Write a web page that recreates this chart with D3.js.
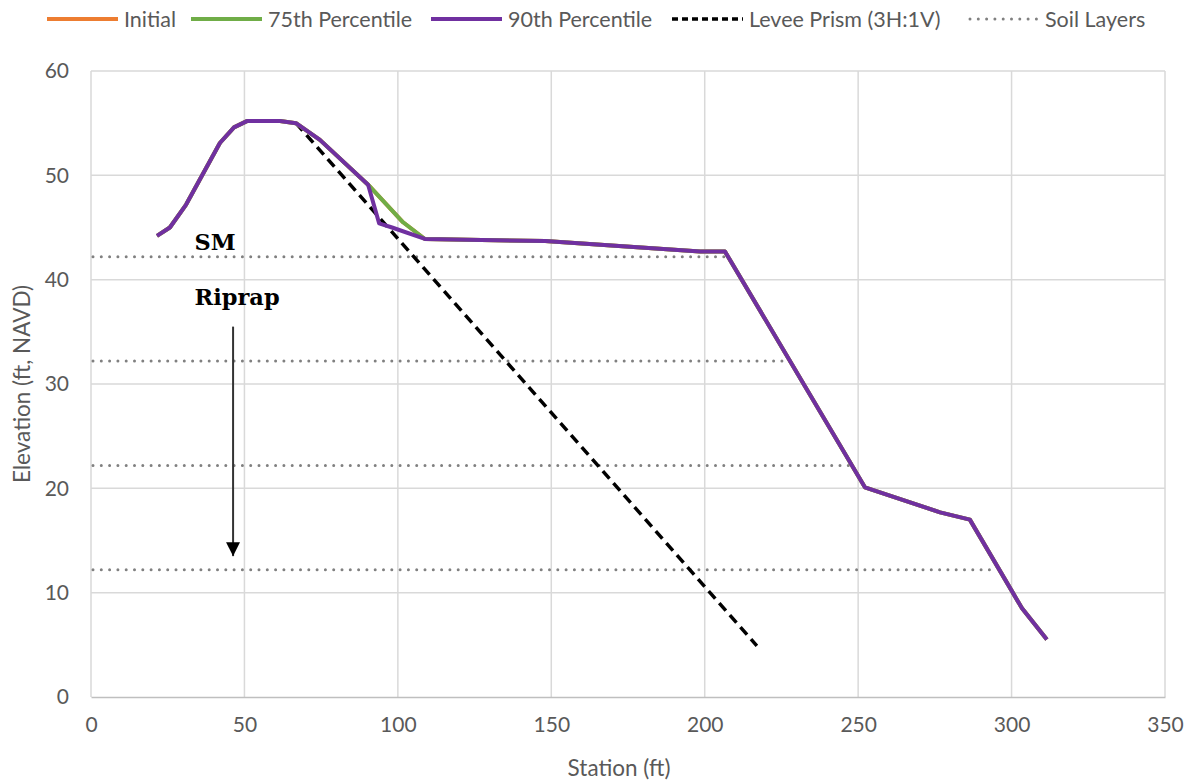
<!DOCTYPE html>
<html>
<head>
<meta charset="utf-8">
<script src="https://cdn.jsdelivr.net/npm/d3@7"></script>
<style>
  body { margin: 0; background: #fff; }
</style>
</head>
<body>
<div id="plot"></div>
<script>
// Chart data (station ft, elevation ft)
var initialStation = [21.5, 25.7, 31.0, 42.0, 46.6, 50.8, 61.6, 66.8, 74.6, 90.3, 101.7, 108.8, 148, 198.5, 206.6, 252.2, 276.7, 286.4, 303.4, 311.5];
var initialElev    = [44.2, 45.0, 47.2, 53.1, 54.6, 55.2, 55.2, 55.0, 53.4, 49.1, 45.5, 43.9, 43.7, 42.7, 42.7, 20.1, 17.7, 17.0, 8.5, 5.5];

var p75Station = [21.5, 25.7, 31.0, 42.0, 46.6, 50.8, 61.6, 66.8, 74.6, 90.3, 101.7, 108.8, 148, 198.5, 206.6, 252.2, 276.7, 286.4, 303.4, 311.5];
var p75Elev    = [44.2, 45.0, 47.2, 53.1, 54.6, 55.2, 55.2, 55.0, 53.4, 49.1, 45.5, 43.9, 43.7, 42.7, 42.7, 20.1, 17.7, 17.0, 8.5, 5.5];

var p90Station = [21.5, 25.7, 31.0, 42.0, 46.6, 50.8, 61.6, 66.8, 74.6, 90.3, 93.9, 98.1, 108.8, 148, 198.5, 206.6, 252.2, 276.7, 286.4, 303.4, 311.5];
var p90Elev    = [44.2, 45.0, 47.2, 53.1, 54.6, 55.2, 55.2, 55.0, 53.4, 49.1, 45.4, 45.0, 43.9, 43.7, 42.7, 42.7, 20.1, 17.7, 17.0, 8.5, 5.5];

var leveeStation = [66.8, 217.0];
var leveeElev    = [55.0, 4.9];

var soilElev       = [42.2, 32.2, 22.2, 12.2];
var soilEndStation = [207, 227.5, 248, 294];

var xTicks = [0, 50, 100, 150, 200, 250, 300, 350];
var yTicks = [0, 10, 20, 30, 40, 50, 60];

var legendNames = ["Initial", "75th Percentile", "90th Percentile", "Levee Prism (3H:1V)", "Soil Layers"];

// SVG area
var svgWidth = 1193;
var svgHeight = 784;

var chartMargin = { top: 71, right: 28, bottom: 87, left: 91 };
var chartWidth = svgWidth - chartMargin.left - chartMargin.right;
var chartHeight = svgHeight - chartMargin.top - chartMargin.bottom;

var labelFont = "Lato, 'Open Sans', sans-serif";
var textGray = "#595959";

var svg = d3.select("#plot")
  .append("svg")
  .attr("width", svgWidth)
  .attr("height", svgHeight);

var chartGroup = svg.append("g")
  .attr("transform", `translate(${chartMargin.left}, ${chartMargin.top})`);

var xScale = d3.scaleLinear().domain([0, 350]).range([0, chartWidth]);
var yScale = d3.scaleLinear().domain([0, 60]).range([chartHeight, 0]);

// gridlines
chartGroup.append("g")
  .selectAll("line")
  .data(xTicks)
  .enter()
  .append("line")
  .attr("x1", d => xScale(d)).attr("x2", d => xScale(d))
  .attr("y1", 0).attr("y2", chartHeight)
  .attr("stroke", "#d9d9d9").attr("stroke-width", 1.5);

chartGroup.append("g")
  .selectAll("line")
  .data(yTicks.slice(1))
  .enter()
  .append("line")
  .attr("x1", 0).attr("x2", chartWidth)
  .attr("y1", d => yScale(d)).attr("y2", d => yScale(d))
  .attr("stroke", "#d9d9d9").attr("stroke-width", 1.5);

// axes
var bottomAxis = d3.axisBottom(xScale).tickValues(xTicks).tickSize(0).tickPadding(20);
var leftAxis = d3.axisLeft(yScale).tickValues(yTicks).tickSize(0).tickPadding(22);

var xAxisG = chartGroup.append("g")
  .attr("transform", `translate(0, ${chartHeight})`)
  .call(bottomAxis);
xAxisG.select(".domain").attr("stroke", "#bfbfbf").attr("stroke-width", 1.5);

var yAxisG = chartGroup.append("g").call(leftAxis);
yAxisG.select(".domain").remove();

svg.selectAll(".tick text")
  .style("font-family", labelFont)
  .style("font-size", "21px")
  .attr("fill", textGray);

svg.append("text")
  .attr("x", chartMargin.left + chartWidth / 2 - 9)
  .attr("y", 776)
  .attr("text-anchor", "middle")
  .style("font-family", labelFont)
  .style("font-size", "22.5px")
  .attr("fill", textGray)
  .text("Station (ft)");

svg.append("text")
  .attr("transform", "translate(30, 384) rotate(-90)")
  .attr("text-anchor", "middle")
  .style("font-family", labelFont)
  .style("font-size", "22.5px")
  .attr("fill", textGray)
  .text("Elevation (ft, NAVD)");

// soil layers
chartGroup.selectAll(".soil")
  .data(soilElev)
  .enter()
  .append("line")
  .attr("class", "soil")
  .attr("x1", xScale(0) + 2)
  .attr("x2", (d, i) => xScale(soilEndStation[i]))
  .attr("y1", d => yScale(d))
  .attr("y2", d => yScale(d))
  .attr("stroke", "#808080")
  .attr("stroke-width", 3)
  .attr("stroke-linecap", "round")
  .attr("stroke-dasharray", "0,8.3");

var line = d3.line()
  .x(d => xScale(d[0]))
  .y(d => yScale(d[1]));

function pairs(xs, ys) {
  return xs.map((x, i) => [x, ys[i]]);
}

// levee prism
chartGroup.append("path")
  .datum(pairs(leveeStation, leveeElev))
  .attr("d", line)
  .attr("fill", "none")
  .attr("stroke", "#000")
  .attr("stroke-width", 3.5)
  .attr("stroke-dasharray", "10,6");

var series = [
  { xs: initialStation, ys: initialElev, color: "#ed7d31" },
  { xs: p75Station, ys: p75Elev, color: "#70ad47" },
  { xs: p90Station, ys: p90Elev, color: "#7030a0" }
];

series.forEach(function(s) {
  chartGroup.append("path")
    .datum(pairs(s.xs, s.ys))
    .attr("d", line)
    .attr("fill", "none")
    .attr("stroke", s.color)
    .attr("stroke-width", 4)
    .attr("stroke-linejoin", "round");
});

// annotations
chartGroup.append("text")
  .attr("x", xScale(40.4))
  .attr("y", yScale(43.6) + 8)
  .attr("text-anchor", "middle")
  .style("font-family", "'DejaVu Serif', serif")
  .style("font-weight", "bold")
  .style("font-size", "22.5px")
  .attr("fill", "#000")
  .text("SM");

chartGroup.append("text")
  .attr("x", xScale(47.6))
  .attr("y", yScale(38.3) + 8)
  .attr("text-anchor", "middle")
  .style("font-family", "'DejaVu Serif', serif")
  .style("font-weight", "bold")
  .style("font-size", "22.5px")
  .attr("fill", "#000")
  .text("Riprap");

svg.append("defs").append("marker")
  .attr("id", "arrow")
  .attr("viewBox", "0 0 10 10")
  .attr("refX", 10).attr("refY", 5)
  .attr("markerWidth", 7).attr("markerHeight", 7)
  .attr("markerUnits", "strokeWidth")
  .attr("orient", "auto")
  .append("path")
  .attr("d", "M0,0 L10,5 L0,10 Z")
  .attr("fill", "#000");

chartGroup.append("line")
  .attr("x1", xScale(46.3)).attr("x2", xScale(46.3))
  .attr("y1", yScale(35.5)).attr("y2", yScale(13.5))
  .attr("stroke", "#333")
  .attr("stroke-width", 2)
  .attr("marker-end", "url(#arrow)");

// legend
var legendX = [47, 191, 431, 672, 968];
var legendStyles = [
  { color: "#ed7d31", dash: null, width: 4, cap: "butt" },
  { color: "#70ad47", dash: null, width: 4, cap: "butt" },
  { color: "#7030a0", dash: null, width: 4, cap: "butt" },
  { color: "#000", dash: "6,4", width: 3.5, cap: "butt" },
  { color: "#808080", dash: "0,8.3", width: 3, cap: "round" }
];

var legend = svg.append("g");
legendNames.forEach(function(name, i) {
  var st = legendStyles[i];
  legend.append("line")
    .attr("x1", legendX[i] + (st.cap === "round" ? 2 : 0))
    .attr("x2", legendX[i] + 71)
    .attr("y1", 19).attr("y2", 19)
    .attr("stroke", st.color)
    .attr("stroke-width", st.width)
    .attr("stroke-linecap", st.cap)
    .attr("stroke-dasharray", st.dash);
  legend.append("text")
    .attr("x", legendX[i] + 77)
    .attr("y", 27)
    .style("font-family", labelFont)
    .style("font-size", "21.5px")
    .attr("fill", textGray)
    .text(name);
});
</script>
</body>
</html>
